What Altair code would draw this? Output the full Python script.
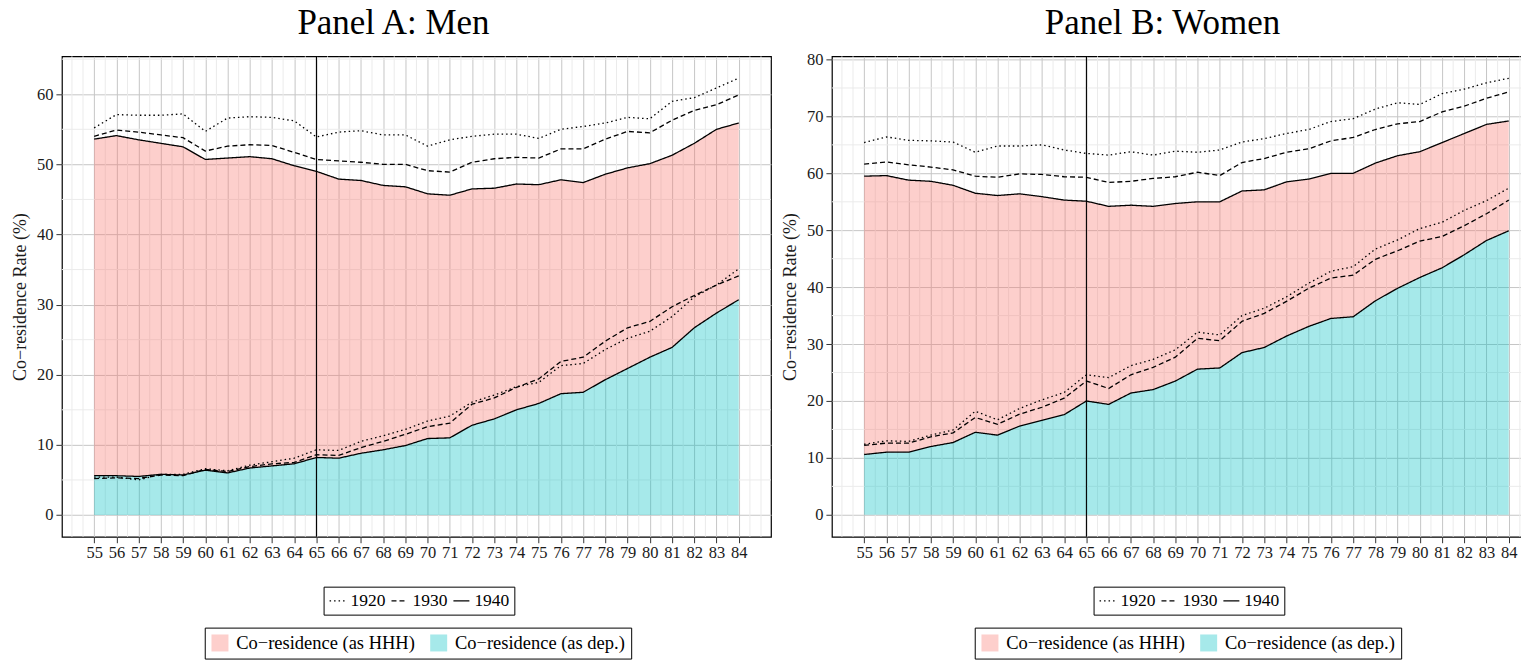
import altair as alt
import pandas as pd

FONT = "Liberation Serif"

ages = list(range(55, 85))
cohorts = ["1920", "1930", "1940"]
kinds = ["Co\u2212residence (as HHH)", "Co\u2212residence (as dep.)"]

# Panel A: Men -- total co-residence (top lines)
men_tot_1920 = [55.2, 57.1, 57.0, 57.0, 57.2, 54.7, 56.6, 56.8, 56.7, 56.2, 53.9, 54.6, 54.8, 54.2, 54.2,
                52.6, 53.5, 54.0, 54.3, 54.3, 53.7, 55.0, 55.4, 55.9, 56.7, 56.5, 59.0, 59.5, 60.9, 62.3]
men_tot_1930 = [54.0, 54.9, 54.6, 54.2, 53.8, 51.9, 52.6, 52.8, 52.7, 51.7, 50.7, 50.5, 50.3, 50.0, 50.0,
                49.1, 48.9, 50.3, 50.8, 51.0, 50.9, 52.2, 52.2, 53.6, 54.7, 54.5, 56.3, 57.7, 58.5, 59.9]
men_tot_1940 = [53.6, 54.1, 53.5, 53.0, 52.5, 50.7, 50.9, 51.1, 50.8, 49.8, 49.0, 47.9, 47.7, 47.0, 46.8,
                45.8, 45.6, 46.5, 46.6, 47.2, 47.1, 47.8, 47.4, 48.6, 49.5, 50.1, 51.3, 53.0, 55.0, 55.9]
# Panel A: Men -- co-residence as dependent (bottom lines)
men_dep_1920 = [5.4, 5.4, 5.0, 5.8, 5.8, 6.6, 6.3, 7.1, 7.6, 8.1, 9.3, 9.2, 10.5, 11.3, 12.2,
                13.4, 14.1, 16.1, 17.1, 18.3, 18.9, 21.3, 21.6, 23.6, 25.2, 26.2, 28.3, 31.1, 32.8, 35.1]
men_dep_1930 = [5.2, 5.3, 5.2, 5.7, 5.6, 6.5, 6.2, 6.9, 7.3, 7.5, 8.6, 8.5, 9.6, 10.5, 11.5,
                12.6, 13.1, 15.8, 16.7, 18.2, 19.4, 21.9, 22.5, 24.8, 26.7, 27.6, 29.7, 31.3, 32.8, 34.1]
men_dep_1940 = [5.6, 5.6, 5.5, 5.8, 5.7, 6.4, 6.0, 6.7, 7.0, 7.3, 8.2, 8.1, 8.8, 9.3, 9.9,
                10.9, 11.0, 12.8, 13.7, 15.0, 15.9, 17.3, 17.5, 19.3, 20.9, 22.5, 23.9, 26.7, 28.8, 30.7]

# Panel B: Women
women_tot_1920 = [65.4, 66.4, 65.8, 65.7, 65.5, 63.7, 64.8, 64.8, 65.0, 64.1, 63.5, 63.2, 63.8, 63.2, 63.9,
                  63.7, 64.1, 65.5, 66.1, 67.0, 67.7, 69.1, 69.6, 71.3, 72.4, 72.1, 74.0, 74.8, 75.9, 76.7]
women_tot_1930 = [61.6, 62.0, 61.5, 61.1, 60.6, 59.5, 59.3, 59.9, 59.8, 59.4, 59.3, 58.4, 58.6, 59.1, 59.4,
                  60.2, 59.6, 61.9, 62.6, 63.7, 64.3, 65.7, 66.3, 67.7, 68.7, 69.1, 70.8, 71.8, 73.2, 74.3]
women_tot_1940 = [59.5, 59.6, 58.8, 58.6, 57.9, 56.5, 56.1, 56.4, 55.9, 55.3, 55.1, 54.2, 54.4, 54.2, 54.7,
                  55.0, 55.0, 56.9, 57.1, 58.5, 59.0, 60.0, 60.0, 61.8, 63.1, 63.8, 65.4, 67.0, 68.6, 69.2]
women_dep_1920 = [12.4, 13.0, 12.9, 14.0, 14.9, 18.2, 16.7, 18.7, 20.2, 21.5, 24.6, 24.1, 26.2, 27.3, 29.0,
                  32.1, 31.6, 35.0, 36.3, 38.3, 40.7, 42.8, 43.6, 46.7, 48.3, 50.3, 51.4, 53.5, 55.2, 57.4]
women_dep_1930 = [12.2, 12.6, 12.6, 13.7, 14.4, 17.1, 15.9, 17.7, 18.9, 20.5, 23.5, 22.2, 24.6, 25.9, 27.7,
                  31.0, 30.6, 34.0, 35.4, 37.5, 39.8, 41.6, 42.1, 44.9, 46.4, 48.1, 48.9, 50.8, 52.9, 55.3]
women_dep_1940 = [10.6, 11.0, 11.0, 12.0, 12.7, 14.5, 14.0, 15.6, 16.6, 17.6, 20.0, 19.4, 21.4, 22.0, 23.5,
                  25.6, 25.8, 28.5, 29.4, 31.4, 33.1, 34.5, 34.8, 37.6, 39.8, 41.7, 43.4, 45.7, 48.2, 49.9]

men_yticks = [0, 10, 20, 30, 40, 50, 60]
men_yminor = [5, 15, 25, 35, 45, 55, 65]
women_yticks = [0, 10, 20, 30, 40, 50, 60, 70, 80]
women_yminor = [5, 15, 25, 35, 45, 55, 65, 75]
x_minor = [54, 54.5] + [a + 0.5 for a in ages] + [85]

PINK = "#F8766D"
TEAL = "#00BFC4"
W, H = 710, 481
XDOM = [53.55, 85.45]


def panel(title, tot, dep, ydom, yticks, yminor, title_dx, title_offset):
    area_df = pd.DataFrame({
        "age": ages * 2,
        "lo": [0.0] * len(ages) + dep[2],
        "hi": dep[2] + tot[2],
        "kind": [kinds[1]] * len(ages) + [kinds[0]] * len(ages),
    })
    rows = []
    for part, series in (("tot", tot), ("dep", dep)):
        for c, vals in zip(cohorts, series):
            for a, v in zip(ages, vals):
                rows.append({"age": a, "value": v, "cohort": c, "part": part + c})
    line_df = pd.DataFrame(rows)

    xscale = alt.Scale(domain=XDOM, nice=False, zero=False)
    yscale = alt.Scale(domain=ydom, nice=False, zero=False)
    xaxis = alt.Axis(values=ages, format="d", title=None, grid=True, gridColor="#C6C6C6",
                     gridWidth=1, ticks=True, tickSize=6, tickColor="#333333", domain=False,
                     labelFont=FONT, labelFontSize=16.5, labelColor="#1A1A1A", labelPadding=2,
                     labelOverlap=False)
    yaxis = alt.Axis(values=yticks, format="d", title="Co\u2212residence Rate (%)", grid=True,
                     gridColor="#C6C6C6", gridWidth=1, ticks=True, tickSize=6, tickColor="#333333",
                     domain=False, labelFont=FONT, labelFontSize=16.5, labelColor="#1A1A1A",
                     labelPadding=3, titleFont=FONT, titleFontSize=18, titleFontWeight="normal",
                     titleColor="#1A1A1A", titlePadding=7)

    def X(field):
        return alt.X(field, type="quantitative", scale=xscale, axis=xaxis)

    def Y(field):
        return alt.Y(field, type="quantitative", scale=yscale, axis=yaxis)

    xminor = alt.Chart(pd.DataFrame({"xm": x_minor})).mark_rule(
        color="#EBEBEB", strokeWidth=1).encode(x=X("xm"))
    ymin_df = pd.DataFrame({"ym": [v for v in yminor if ydom[0] < v < ydom[1]]})
    yminor_r = alt.Chart(ymin_df).mark_rule(color="#EBEBEB", strokeWidth=1).encode(y=Y("ym"))

    areas = alt.Chart(area_df).mark_area(opacity=0.35, interpolate="linear").encode(
        x=X("age"),
        y=Y("lo"),
        y2="hi",
        fill=alt.Fill("kind:N", scale=alt.Scale(domain=kinds, range=[PINK, TEAL]),
                      legend=alt.Legend(title=None, orient="none", legendX=143, legendY=572,
                                        direction="horizontal", symbolType="square",
                                        symbolSize=289, symbolOpacity=0.35, symbolStrokeWidth=0,
                                        labelFont=FONT, labelFontSize=18.5, labelColor="#000000",
                                        labelLimit=400,
                                        strokeColor="#000000", padding=6, columnPadding=14,
                                        labelOffset=7)),
        detail="kind:N",
    )

    lines = alt.Chart(line_df).mark_line(color="black", strokeWidth=1.3).encode(
        x=X("age"),
        y=Y("value"),
        strokeDash=alt.StrokeDash("cohort:N",
                                  scale=alt.Scale(domain=cohorts, range=[[1.5, 3], [5, 3], [1, 0]]),
                                  legend=alt.Legend(title=None, orient="none", legendX=262,
                                                    legendY=531, direction="horizontal",
                                                    symbolType="stroke", symbolSize=256,
                                                    symbolStrokeColor="black",
                                                    symbolStrokeWidth=1.3, labelFont=FONT,
                                                    labelFontSize=17.5, labelColor="#000000",
                                                    strokeColor="#000000", padding=5,
                                                    columnPadding=3, labelOffset=4)),
        detail="part:N",
    )

    vline = alt.Chart(pd.DataFrame({"v": [65]})).mark_rule(color="black", strokeWidth=1.1).encode(
        x=X("v"))

    return alt.layer(xminor, yminor_r, areas, lines, vline).properties(
        width=W, height=H,
        title=alt.TitleParams(text=title, font=FONT, fontSize=35, fontWeight="normal",
                              color="#000000", anchor="middle", frame="group",
                              offset=title_offset, dx=title_dx),
    )


men = panel("Panel A: Men",
            [men_tot_1920, men_tot_1930, men_tot_1940],
            [men_dep_1920, men_dep_1930, men_dep_1940],
            [-3.1, 65.4], men_yticks, men_yminor, -23, 15)
women = panel("Panel B: Women",
              [women_tot_1920, women_tot_1930, women_tot_1940],
              [women_dep_1920, women_dep_1930, women_dep_1940],
              [-3.85, 80.55], women_yticks, women_yminor, -24, 11)

chart = alt.hconcat(men, women, spacing=7).resolve_scale(
    fill="independent", strokeDash="independent", x="independent", y="independent"
).resolve_legend(fill="independent", strokeDash="independent").properties(
    padding={"left": 2, "top": -4, "right": -22, "bottom": 0}
).configure_view(stroke="black", strokeWidth=1.2)

chart.save("out.html", embed_options={"renderer": "svg", "actions": False})
